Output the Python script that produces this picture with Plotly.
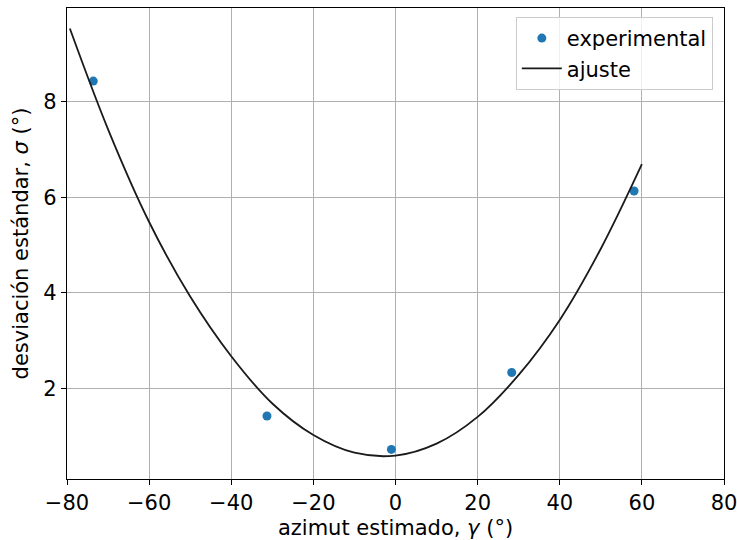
import plotly.graph_objects as go

# Measured points: estimated azimuth (deg) vs standard deviation (deg)
azimut_exp = [-73.6, -31.3, -1.0, 28.3, 58.1]
sigma_exp = [8.43, 1.42, 0.72, 2.33, 6.13]

# Fitted curve, sampled along the azimuth range
azimut_fit = [-79.3, -70, -60, -50, -40, -30, -20, -10, 0, 10, 20, 30, 40, 50, 60]
sigma_fit = [9.53, 7.42, 5.48, 3.92, 2.67, 1.68, 1.02, 0.65, 0.59, 0.84, 1.40, 2.28, 3.43, 4.92, 6.69]

x_ticks = [-80, -60, -40, -20, 0, 20, 40, 60, 80]
y_ticks = [2, 4, 6, 8]

font_family = "DejaVu Sans"
font_size = 21

fig = go.Figure()
fig.add_trace(go.Scatter(
    x=azimut_exp, y=sigma_exp, mode="markers", name="experimental",
    marker=dict(color="#1f77b4", size=9),
))
fig.add_trace(go.Scatter(
    x=azimut_fit, y=sigma_fit, mode="lines", name="ajuste",
    line=dict(color="#1a1a1a", width=1.8, shape="spline", smoothing=1.0),
))

axis_common = dict(
    showline=True, linecolor="black", linewidth=1.2, mirror=True,
    ticks="outside", ticklen=5, tickwidth=1.2, tickcolor="black",
    showgrid=True, gridcolor="#b0b0b0", gridwidth=1.2,
    zeroline=False, ticklabeloverflow="allow", automargin=False,
    tickfont=dict(family=font_family, size=font_size, color="black"),
)

fig.update_xaxes(
    range=[-80, 80], tickvals=x_ticks,
    title=dict(text="azimut estimado, <i>γ</i> (°)",
               font=dict(family=font_family, size=font_size, color="black"), standoff=10),
    **axis_common,
)
fig.update_yaxes(
    range=[0.1, 9.96], tickvals=y_ticks,
    title=dict(text="desviación estándar, <i>σ</i> (°)",
               font=dict(family=font_family, size=font_size, color="black"), standoff=8),
    **axis_common,
)

fig.update_layout(
    width=737, height=540,
    margin=dict(l=67, r=13, t=8, b=61),
    paper_bgcolor="white", plot_bgcolor="white",
    font=dict(family=font_family, size=font_size, color="black"),
    legend=dict(
        x=0.983, y=0.981, xanchor="right", yanchor="top",
        bgcolor="rgba(255,255,255,0.8)", bordercolor="#cccccc", borderwidth=1,
        font=dict(family=font_family, size=font_size, color="black"),
        itemwidth=40, tracegroupgap=0,
    ),
)

fig.write_html("out.html")
